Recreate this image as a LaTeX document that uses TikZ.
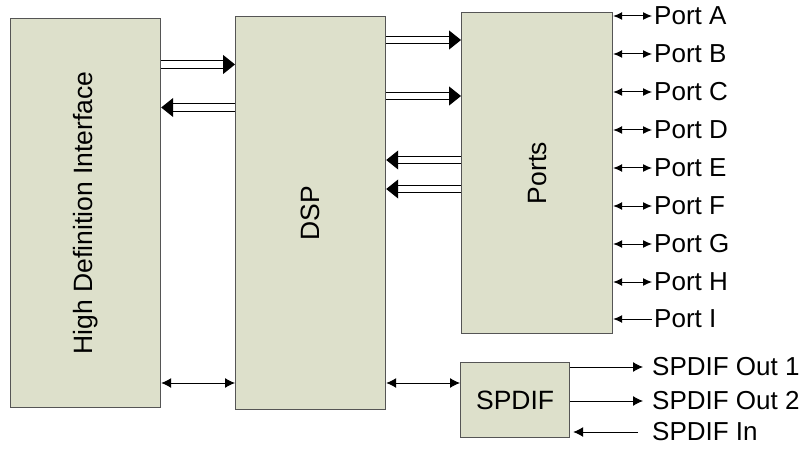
\documentclass[tikz,border=0pt]{standalone}
\usepackage{fontspec}
\setmainfont{Liberation Sans}
\usepackage{tikz}
\definecolor{blockgreen}{RGB}{221,224,203}
\definecolor{blockedge}{RGB}{85,85,85}
\usetikzlibrary{arrows.meta, positioning}

\begin{document}
\begin{tikzpicture}[x=1pt, y=-1pt, >={Latex[length=10pt,width=10pt]},
	block/.style={draw=blockedge, line width=1.2pt, fill=blockgreen, anchor=north west, inner sep=0pt, font=\fontsize{26.5}{30}\selectfont},
	bus/.style={double, double distance=6.5pt, line width=1pt, -{Triangle[length=12pt,width=19pt]}},
	signal/.style={line width=1pt},
	porttip/.style={{Latex[length=9pt,width=8pt]}-{Latex[length=9pt,width=8pt]}},
	portlabel/.style={anchor=west, inner sep=2pt, font=\fontsize{26}{30}\selectfont}]
	\useasboundingbox (0,0) rectangle (805,449);
	% Bloecke
	\node[block, minimum width=150pt, minimum height=389pt] (hdi) at (10,18) {\rotatebox{90}{High Definition Interface}};
	\node[block, minimum width=150pt, minimum height=393pt] (dsp) at (235,16) {\rotatebox{90}{DSP}};
	\node[block, minimum width=151pt, minimum height=321pt] (ports) at (461,12) {\rotatebox{90}{Ports}};
	\node[block, minimum width=109pt, minimum height=75pt] (spdif) at (460,362) {SPDIF};
	% Busse
	\draw[bus] (hdi.east |- 0,64.5) -- (dsp.west |- 0,64.5);
	\draw[bus] (dsp.west |- 0,107.5) -- (hdi.east |- 0,107.5);
	\draw[bus] (dsp.east |- 0,40) -- (ports.west |- 0,40);
	\draw[bus] (dsp.east |- 0,96) -- (ports.west |- 0,96);
	\draw[bus] (ports.west |- 0,160) -- (dsp.east |- 0,160);
	\draw[bus] (ports.west |- 0,189) -- (dsp.east |- 0,189);
	\draw[signal, <->] (hdi.east |- 0,383) -- (dsp.west |- 0,383);
	\draw[signal, <->] (dsp.east |- 0,383) -- (spdif.west |- 0,383);
	% Ports
	\foreach \p [count=\i from 0] in {A,...,H} {
		\node[portlabel] (port\p) at (652,16+38*\i) {Port \p};
		\draw[signal, porttip] (ports.east |- port\p) -- (port\p.west);
	}
	\node[portlabel] (portI) at (652,319) {Port I};
	\draw[signal, {Latex[length=9pt,width=8pt]}-] (ports.east |- portI) -- (portI.west);
	% SPDIF
	\node[portlabel] (out1) at (650,367) {SPDIF Out 1};
	\node[portlabel] (out2) at (650,401) {SPDIF Out 2};
	\node[portlabel] (spin) at (650,432) {SPDIF In};
	\draw[signal, ->, shorten >=7pt] (spdif.east |- out1) -- (out1.west);
	\draw[signal, ->, shorten >=7pt] (spdif.east |- out2) -- (out2.west);
	\draw[signal, ->, shorten <=12pt, shorten >=3pt] (spin.west) -- (spdif.east |- spin);
\end{tikzpicture}
\end{document}
